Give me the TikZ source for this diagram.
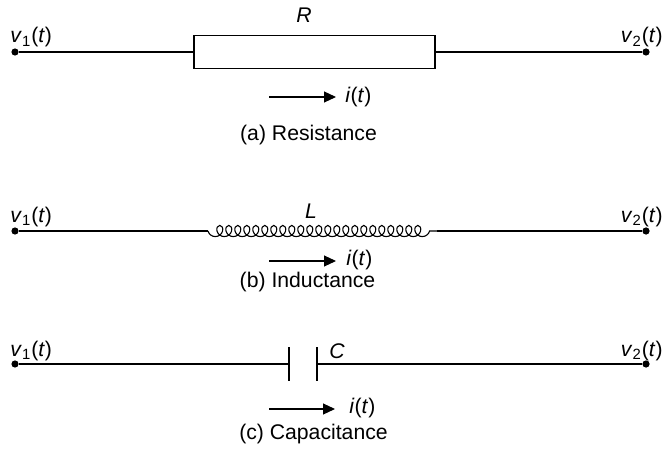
\documentclass[tikz,border=0pt]{standalone}
\usepackage{fontspec}
\setmainfont{Liberation Sans}
\usetikzlibrary{arrows.meta,decorations.pathmorphing}
\newcommand{\vt}[1]{\textit{v}\textsubscript{#1}(\textit{t})}
\newcommand{\cur}{\textit{i}(\textit{t})}
\begin{document}
\begin{tikzpicture}[x=.5pt,y=-.5pt,font=\fontsize{10.6}{12}\selectfont,
  wire/.style={line width=.55pt},
  term/.style={circle,fill,inner sep=0pt,minimum size=3.6pt},
  flow/.style={line width=.55pt,-{Triangle[length=6pt,width=5.5pt]}},
  lbl/.style={inner sep=0pt}]
\useasboundingbox (0,0) rectangle (663,454);
% (a) resistance
\node[term] (a1) at (15,52) {};
\node[term] (a2) at (646,52) {};
\node[draw,line width=.6pt,minimum width=120.5pt,minimum height=16.5pt,inner sep=0pt] (res) at (314.5,52) {};
\draw[wire] (a1) -- (res) -- (a2);
\node[lbl,anchor=base west] (va1) at (10,43) {\vt1};
\node[lbl,anchor=base east] (va2) at (663,43) {\vt2};
\node[lbl] (R) at (304,15) {\textit{R}};
\coordinate (ia0) at (269,97);
\coordinate (ia1) at (336,97);
\draw[flow] (ia0) -- (ia1);
\node[lbl,anchor=west] (ia) at (345,97) {\cur};
\node[lbl] (capa) at (308.5,135) {(a) Resistance};
% (b) inductance
\node[term] (b1) at (15,231) {};
\node[term] (b2) at (646,231) {};
\coordinate (Ls) at (208,231);
\coordinate (Le) at (437,231);
\draw[wire] (b1) -- (Ls);
\draw[wire,decorate,decoration={coil,mirror,aspect=0.9,amplitude=2.8pt,segment length=4.5pt}] (Ls) -- (Le);
\draw[wire] (Le) -- (b2);
\node[lbl,anchor=base west] (vb1) at (10,222) {\vt1};
\node[lbl,anchor=base east] (vb2) at (663,222) {\vt2};
\node[lbl] (L) at (311,211) {\textit{L}};
\coordinate (ib0) at (269,261);
\coordinate (ib1) at (336,261);
\draw[flow] (ib0) -- (ib1);
\node[lbl,anchor=west] (ib) at (346,260) {\cur};
\node[lbl] (capb) at (307.5,282) {(b) Inductance};
% (c) capacitance
\node[term] (c1) at (15,364) {};
\node[term] (c2) at (646,364) {};
\coordinate (Cl) at (289,364);
\coordinate (Cr) at (317,364);
\draw[wire] (c1) -- (Cl);
\draw[wire] (Cr) -- (c2);
\draw[wire] ([yshift=8.5pt]Cl) -- ([yshift=-8.5pt]Cl);
\draw[wire] ([yshift=8.5pt]Cr) -- ([yshift=-8.5pt]Cr);
\node[lbl,anchor=base west] (vc1) at (10,356) {\vt1};
\node[lbl,anchor=base east] (vc2) at (663,356) {\vt2};
\node[lbl] (C) at (337,351) {\textit{C}};
\coordinate (ic0) at (269,409);
\coordinate (ic1) at (335,409);
\draw[flow] (ic0) -- (ic1);
\node[lbl,anchor=west] (ic) at (349,408) {\cur};
\node[lbl] (capc) at (313.5,434) {(c) Capacitance};
\end{tikzpicture}
\end{document}
